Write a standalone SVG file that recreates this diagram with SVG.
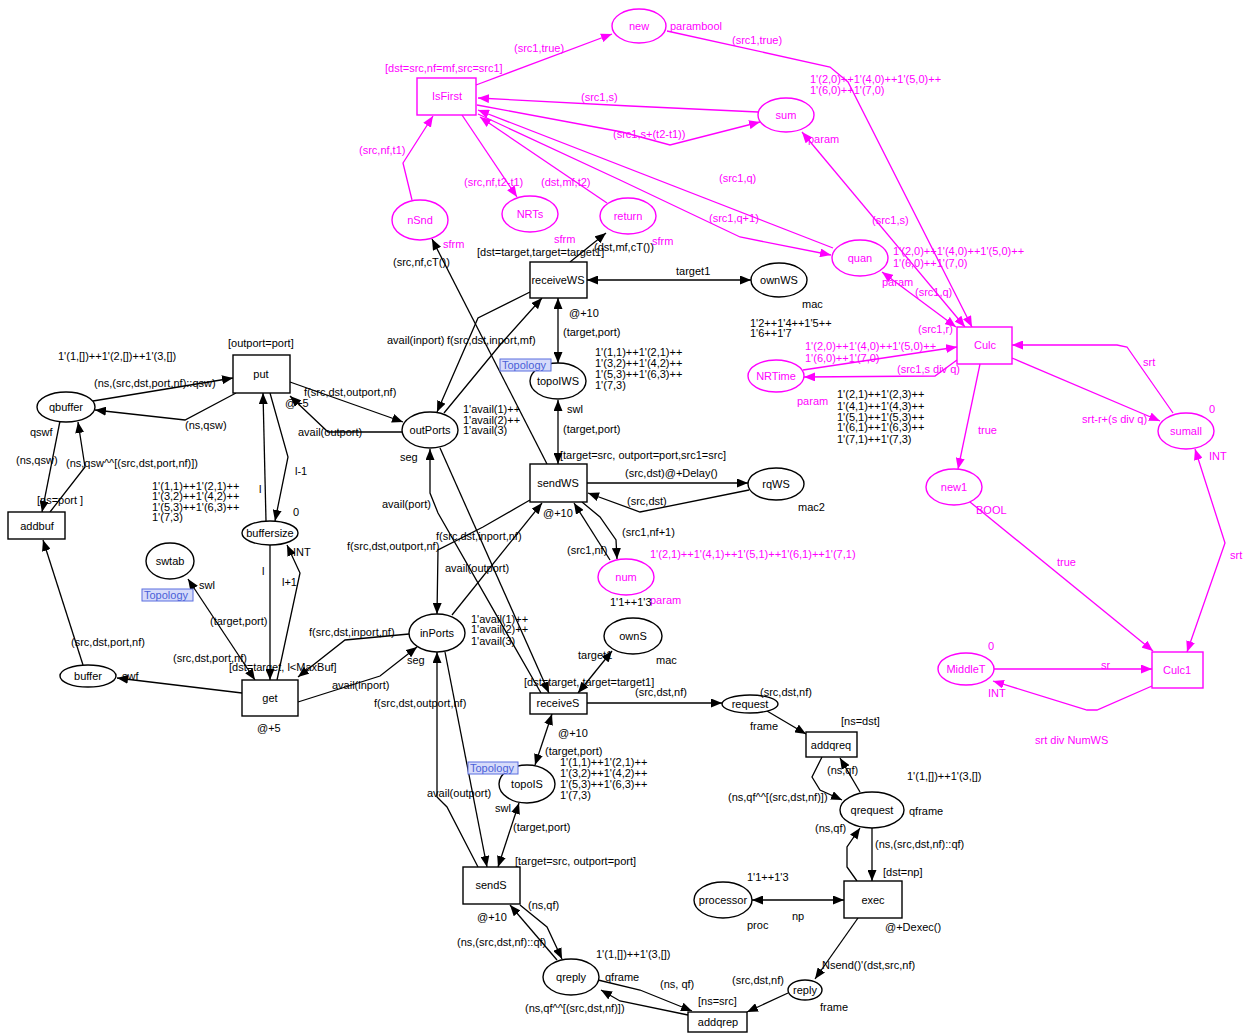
<svg xmlns="http://www.w3.org/2000/svg" width="1244" height="1035" viewBox="0 0 1244 1035">
<defs>
<marker id="ab" markerWidth="11" markerHeight="9" refX="11" refY="4.5" orient="auto-start-reverse" markerUnits="userSpaceOnUse"><path d="M0,0 L11,4.5 L0,9 z" fill="#000"/></marker>
<marker id="am" markerWidth="11" markerHeight="9" refX="11" refY="4.5" orient="auto-start-reverse" markerUnits="userSpaceOnUse"><path d="M0,0 L11,4.5 L0,9 z" fill="#f0f"/></marker>
<style>
.e{fill:none;stroke:#000;stroke-width:1.3;marker-end:url(#ab)}
.eb{marker-start:url(#ab)}
.em{fill:none;stroke:#f0f;stroke-width:1.3;marker-end:url(#am)}
.emb{marker-start:url(#am)}
.n{fill:#fff;stroke:#000;stroke-width:1.4}
.nm{fill:#fff;stroke:#f0f;stroke-width:1.4}
text{font-family:"Liberation Sans",Arial,sans-serif;font-size:11px;fill:#000}
.tm{fill:#f0f}
.c{text-anchor:middle}
.topo rect{fill:#d6dbfa;stroke:#5b6fe0;stroke-width:1}
.topo text{fill:#4a60d8}
</style>
</defs>
<rect width="1244" height="1035" fill="#fff"/>

<g id="connectors">
<!-- black arcs -->
<path class="e" d="M93,401 L233,378"/>
<path class="e" d="M236,393 L185,420 L95,410"/>
<path class="e" d="M60,421 L42,512"/>
<path class="e" d="M50,512 L85,467 L78,422"/>
<path class="e" d="M83,665 L43,540"/>
<path class="e" d="M242,693 L117,678"/>
<path class="e" d="M270,393 L288,457 L275,521"/>
<path class="e" d="M266,521 L263,393"/>
<path class="e" d="M270,545 L270,680"/>
<path class="e" d="M277,680 L300,573 L287,545"/>
<path class="e eb" d="M188,579 L255,680"/>
<path class="e" d="M290,382 L403,422"/>
<path class="e" d="M402,432 L328,432 L290,396"/>
<path class="e" d="M409,634 L345,640 L298,677"/>
<path class="e" d="M298,702 L380,676 L417,647"/>
<path class="e" d="M530,292 L478,318 L437,412"/>
<path class="e" d="M444,413 L500,345 L542,298"/>
<path class="e" d="M547,464 L432,239"/>
<path class="e" d="M570,262 L606,233"/>
<path class="e eb" d="M558,298 L558,363"/>
<path class="e eb" d="M558,400 L558,464"/>
<path class="e eb" d="M587,280 L751,280"/>
<path class="e" d="M587,483 L748,483"/>
<path class="e" d="M749,490 L640,512 L588,493"/>
<path class="e" d="M582,502 L600,517 L616,540 L617,559"/>
<path class="e" d="M610,560 L574,503"/>
<path class="e" d="M530,500 L483,527 L438,550 L437,614"/>
<path class="e" d="M452,615 L542,503"/>
<path class="e" d="M541,693 L438,513 L430,493 L430,449"/>
<path class="e" d="M440,448 L549,693"/>
<path class="e eb" d="M578,693 L612,651"/>
<path class="e" d="M587,703 L722,703"/>
<path class="e eb" d="M552,714 L535,765"/>
<path class="e eb" d="M519,803 L498,867"/>
<path class="e" d="M478,867 L447,807 L437,797 L437,652"/>
<path class="e" d="M445,652 L487,867"/>
<path class="e" d="M520,905 L547,927 L562,959"/>
<path class="e" d="M557,960 L510,905"/>
<path class="e" d="M598,980 L640,990 L692,1011"/>
<path class="e" d="M688,1015 L620,1001 L601,990"/>
<path class="e" d="M788,993 L747,1012"/>
<path class="e" d="M858,918 L815,979"/>
<path class="e" d="M872,828 L872,881"/>
<path class="e" d="M857,881 L847,867 L847,847 L860,828"/>
<path class="e eb" d="M752,900 L844,900"/>
<path class="e" d="M767,711 L806,734"/>
<path class="e" d="M822,757 L812,777 L820,790 L842,800"/>
<path class="e" d="M860,792 L840,758"/>
<!-- magenta arcs -->
<path class="em" d="M476,85 L612,34"/>
<path class="em" d="M667,31 L830,67 L848,82 L972,327"/>
<path class="em" d="M758,112 L630,106 L478,98"/>
<path class="em" d="M477,105 L622,132 L670,145 L760,122"/>
<path class="em" d="M833,248 L478,110"/>
<path class="em" d="M478,114 L620,180 L740,237 L831,255"/>
<path class="em" d="M607,203 L480,117"/>
<path class="em" d="M412,200 L403,163 L433,116"/>
<path class="em" d="M462,115 L517,197"/>
<path class="em emb" d="M802,132 L965,327"/>
<path class="em emb" d="M882,272 L956,327"/>
<path class="em" d="M803,370 L957,347"/>
<path class="em" d="M957,360 L935,376 L804,377"/>
<path class="em" d="M1012,358 L1160,421"/>
<path class="em" d="M1173,413 L1127,347 L1117,345 L1012,345"/>
<path class="em" d="M980,364 L958,469"/>
<path class="em" d="M970,502 L1153,651"/>
<path class="em emb" d="M1195,449 L1225,543 L1187,652"/>
<path class="em" d="M994,669 L1152,669"/>
<path class="em" d="M1152,686 L1097,710 L1087,710 L993,681"/>
</g>

<!-- black nodes -->
<g id="put"><rect class="n" x="233" y="355" width="57" height="38"/><text class="c" x="261" y="378">put</text></g>
<g id="qbuffer"><ellipse class="n" cx="66" cy="407" rx="29" ry="15"/><text class="c" x="66" y="411">qbuffer</text></g>
<g id="addbuf"><rect class="n" x="8" y="512" width="57" height="27"/><text class="c" x="37" y="530">addbuf</text></g>
<g id="buffersize"><ellipse class="n" cx="270" cy="533" rx="28" ry="12"/><text class="c" x="270" y="537">buffersize</text></g>
<g id="swtab"><ellipse class="n" cx="170" cy="561" rx="24" ry="18"/><text class="c" x="170" y="565">swtab</text></g>
<g id="buffer"><ellipse class="n" cx="88" cy="676" rx="28" ry="11"/><text class="c" x="88" y="680">buffer</text></g>
<g id="get"><rect class="n" x="242" y="680" width="56" height="36"/><text class="c" x="270" y="702">get</text></g>
<g id="outPorts"><ellipse class="n" cx="430" cy="430" rx="28" ry="18"/><text class="c" x="430" y="434">outPorts</text></g>
<g id="receiveWS"><rect class="n" x="530" y="262" width="57" height="36"/><text class="c" x="558" y="284">receiveWS</text></g>
<g id="ownWS"><ellipse class="n" cx="779" cy="280" rx="28" ry="17"/><text class="c" x="779" y="284">ownWS</text></g>
<g id="topoIWS"><ellipse class="n" cx="558" cy="381" rx="28" ry="18"/><text class="c" x="558" y="385">topoIWS</text></g>
<g id="sendWS"><rect class="n" x="530" y="464" width="57" height="38"/><text class="c" x="558" y="487">sendWS</text></g>
<g id="rqWS"><ellipse class="n" cx="776" cy="484" rx="28" ry="16"/><text class="c" x="776" y="488">rqWS</text></g>
<g id="inPorts"><ellipse class="n" cx="437" cy="633" rx="28" ry="19"/><text class="c" x="437" y="637">inPorts</text></g>
<g id="ownS"><ellipse class="n" cx="633" cy="636" rx="29" ry="18"/><text class="c" x="633" y="640">ownS</text></g>
<g id="receiveS"><rect class="n" x="530" y="693" width="57" height="21"/><text class="c" x="558" y="707">receiveS</text></g>
<g id="request"><ellipse class="n" cx="750" cy="704" rx="28" ry="9"/><text class="c" x="750" y="708">request</text></g>
<g id="addqreq"><rect class="n" x="806" y="732" width="51" height="25"/><text class="c" x="831" y="749">addqreq</text></g>
<g id="qrequest"><ellipse class="n" cx="872" cy="810" rx="32" ry="18"/><text class="c" x="872" y="814">qrequest</text></g>
<g id="topoIS"><ellipse class="n" cx="527" cy="784" rx="28" ry="19"/><text class="c" x="527" y="788">topoIS</text></g>
<g id="sendS"><rect class="n" x="463" y="867" width="57" height="37"/><text class="c" x="491" y="889">sendS</text></g>
<g id="processor"><ellipse class="n" cx="723" cy="900" rx="29" ry="18"/><text class="c" x="723" y="904">processor</text></g>
<g id="exec"><rect class="n" x="844" y="881" width="58" height="37"/><text class="c" x="873" y="904">exec</text></g>
<g id="reply"><ellipse class="n" cx="805" cy="990" rx="17" ry="10"/><text class="c" x="805" y="994">reply</text></g>
<g id="addqrep"><rect class="n" x="688" y="1012" width="59" height="20"/><text class="c" x="718" y="1026">addqrep</text></g>
<g id="qreply"><ellipse class="n" cx="571" cy="977" rx="28" ry="18"/><text class="c" x="571" y="981">qreply</text></g>

<!-- magenta nodes -->
<g id="IsFirst"><rect class="nm" x="417" y="78" width="59" height="37"/><text class="c tm" x="447" y="100">IsFirst</text></g>
<g id="new"><ellipse class="nm" cx="639" cy="26" rx="27" ry="17"/><text class="c tm" x="639" y="30">new</text></g>
<g id="sum"><ellipse class="nm" cx="786" cy="115" rx="28" ry="17"/><text class="c tm" x="786" y="119">sum</text></g>
<g id="nSnd"><ellipse class="nm" cx="420" cy="220" rx="28" ry="20"/><text class="c tm" x="420" y="224">nSnd</text></g>
<g id="NRTs"><ellipse class="nm" cx="530" cy="214" rx="28" ry="18"/><text class="c tm" x="530" y="218">NRTs</text></g>
<g id="return"><ellipse class="nm" cx="628" cy="216" rx="28" ry="18"/><text class="c tm" x="628" y="220">return</text></g>
<g id="quan"><ellipse class="nm" cx="860" cy="258" rx="28" ry="18"/><text class="c tm" x="860" y="262">quan</text></g>
<g id="Culc"><rect class="nm" x="957" y="327" width="55" height="37"/><text class="c tm" x="985" y="349">Culc</text></g>
<g id="NRTime"><ellipse class="nm" cx="776" cy="376" rx="28" ry="16"/><text class="c tm" x="776" y="380">NRTime</text></g>
<g id="num"><ellipse class="nm" cx="626" cy="577" rx="28" ry="18"/><text class="c tm" x="626" y="581">num</text></g>
<g id="sumall"><ellipse class="nm" cx="1186" cy="431" rx="28" ry="18"/><text class="c tm" x="1186" y="435">sumall</text></g>
<g id="new1"><ellipse class="nm" cx="954" cy="487" rx="28" ry="18"/><text class="c tm" x="954" y="491">new1</text></g>
<g id="Culc1"><rect class="nm" x="1152" y="652" width="51" height="36"/><text class="c tm" x="1177" y="674">Culc1</text></g>
<g id="MiddleT"><ellipse class="nm" cx="966" cy="669" rx="28" ry="16"/><text class="c tm" x="966" y="673">MiddleT</text></g>

<!-- Topology tags -->
<g class="topo" id="topo1"><rect x="142" y="589" width="51" height="12"/><text x="144" y="599">Topology</text></g>
<g class="topo" id="topo2"><rect x="500" y="359" width="51" height="12"/><text x="502" y="369">Topology</text></g>
<g class="topo" id="topo3"><rect x="468" y="762" width="50" height="12"/><text x="470" y="772">Topology</text></g>

<!-- magenta labels -->
<g id="labels-m" class="tm">
<text class="tm" x="514" y="52">(src1,true)</text>
<text class="tm" x="385" y="72">[dst=src,nf=mf,src=src1]</text>
<text class="tm" x="359" y="154">(src,nf,t1)</text>
<text class="tm" x="464" y="186">(src,nf,t2-t1)</text>
<text class="tm" x="541" y="186">(dst,mf,t2)</text>
<text class="tm" x="581" y="101">(src1,s)</text>
<text class="tm" x="443" y="248">sfrm</text>
<text class="tm" x="554" y="243">sfrm</text>
<text class="tm" x="652" y="245">sfrm</text>
<text class="tm" x="670" y="30">parambool</text>
<text class="tm" x="732" y="44">(src1,true)</text>
<text class="tm" x="810" y="83">1'(2,0)++1'(4,0)++1'(5,0)++</text>
<text class="tm" x="810" y="94">1'(6,0)++1'(7,0)</text>
<text class="tm" x="613" y="138">(src1,s+(t2-t1))</text>
<text class="tm" x="808" y="143">param</text>
<text class="tm" x="719" y="182">(src1,q)</text>
<text class="tm" x="709" y="222">(src1,q+1)</text>
<text class="tm" x="872" y="224">(src1,s)</text>
<text class="tm" x="893" y="255">1'(2,0)++1'(4,0)++1'(5,0)++</text>
<text class="tm" x="893" y="267">1'(6,0)++1'(7,0)</text>
<text class="tm" x="882" y="286">param</text>
<text class="tm" x="915" y="296">(src1,q)</text>
<text class="tm" x="918" y="333">(src1,r)</text>
<text class="tm" x="805" y="350">1'(2,0)++1'(4,0)++1'(5,0)++</text>
<text class="tm" x="805" y="362">1'(6,0)++1'(7,0)</text>
<text class="tm" x="897" y="373">(src1,s div q)</text>
<text class="tm" x="797" y="405">param</text>
<text class="tm" x="1143" y="366">srt</text>
<text class="tm" x="1209" y="413">0</text>
<text class="tm" x="1082" y="423">srt-r+(s div q)</text>
<text class="tm" x="1209" y="460">INT</text>
<text class="tm" x="978" y="434">true</text>
<text class="tm" x="976" y="514">BOOL</text>
<text class="tm" x="1057" y="566">true</text>
<text class="tm" x="1230" y="559">srt</text>
<text class="tm" x="988" y="650">0</text>
<text class="tm" x="1101" y="669">sr</text>
<text class="tm" x="988" y="697">INT</text>
<text class="tm" x="1035" y="744">srt div NumWS</text>
<text class="tm" x="650" y="558">1'(2,1)++1'(4,1)++1'(5,1)++1'(6,1)++1'(7,1)</text>
<text class="tm" x="650" y="604">param</text>
</g>

<!-- black labels -->
<g id="labels-b">
<text x="228" y="347">[outport=port]</text>
<text x="58" y="360">1'(1,[])++1'(2,[])++1'(3,[])</text>
<text x="94" y="387">(ns,(src,dst,port,nf)::qsw)</text>
<text x="185" y="429">(ns,qsw)</text>
<text x="30" y="436">qswf</text>
<text x="16" y="464">(ns,qsw)</text>
<text x="66" y="467">(ns,qsw^^[(src,dst,port,nf)])</text>
<text x="37" y="504">[ns=port ]</text>
<text x="152" y="490">1'(1,1)++1'(2,1)++</text>
<text x="152" y="500">1'(3,2)++1'(4,2)++</text>
<text x="152" y="511">1'(5,3)++1'(6,3)++</text>
<text x="152" y="521">1'(7,3)</text>
<text x="259" y="493">l</text>
<text x="295" y="475">l-1</text>
<text x="293" y="516">0</text>
<text x="293" y="556">INT</text>
<text x="262" y="575">l</text>
<text x="282" y="586">l+1</text>
<text x="199" y="589">swl</text>
<text x="210" y="625">(target,port)</text>
<text x="71" y="646">(src,dst,port,nf)</text>
<text x="173" y="662">(src,dst,port,nf)</text>
<text x="229" y="671">[dst=target, l&lt;MaxBuf]</text>
<text x="122" y="680">swf</text>
<text x="257" y="732">@+5</text>
<text x="285" y="407">@+5</text>
<text x="304" y="396">f(src,dst,outport,nf)</text>
<text x="298" y="436">avail(outport)</text>
<text x="400" y="461">seg</text>
<text x="463" y="413">1'avail(1)++</text>
<text x="463" y="424">1'avail(2)++</text>
<text x="463" y="434">1'avail(3)</text>
<text x="382" y="508">avail(port)</text>
<text x="436" y="540">f(src,dst,inport,nf)</text>
<text x="347" y="550">f(src,dst,outport,nf)</text>
<text x="445" y="572">avail(outport)</text>
<text x="471" y="623">1'avail(1)++</text>
<text x="471" y="633">1'avail(2)++</text>
<text x="471" y="645">1'avail(3)</text>
<text x="407" y="664">seg</text>
<text x="309" y="636">f(src,dst,inport,nf)</text>
<text x="332" y="689">avail(inport)</text>
<text x="374" y="707">f(src,dst,outport,nf)</text>
<text x="543" y="517">@+10</text>
<text x="567" y="554">(src1,nf)</text>
<text x="622" y="536">(src1,nf+1)</text>
<text x="560" y="459">[target=src, outport=port,src1=src]</text>
<text x="625" y="477">(src,dst)@+Delay()</text>
<text x="627" y="505">(src,dst)</text>
<text x="798" y="511">mac2</text>
<text x="563" y="433">(target,port)</text>
<text x="567" y="413">swl</text>
<text x="595" y="356">1'(1,1)++1'(2,1)++</text>
<text x="595" y="367">1'(3,2)++1'(4,2)++</text>
<text x="595" y="378">1'(5,3)++1'(6,3)++</text>
<text x="595" y="389">1'(7,3)</text>
<text x="563" y="336">(target,port)</text>
<text x="569" y="317">@+10</text>
<text x="676" y="275">target1</text>
<text x="802" y="308">mac</text>
<text x="750" y="327">1'2++1'4++1'5++</text>
<text x="750" y="337">1'6++1'7</text>
<text x="837" y="398">1'(2,1)++1'(2,3)++</text>
<text x="837" y="410">1'(4,1)++1'(4,3)++</text>
<text x="837" y="421">1'(5,1)++1'(5,3)++</text>
<text x="837" y="431">1'(6,1)++1'(6,3)++</text>
<text x="837" y="443">1'(7,1)++1'(7,3)</text>
<text x="477" y="256">[dst=target,target=target1]</text>
<text x="594" y="251">(dst,mf,cT())</text>
<text x="393" y="266">(src,nf,cT())</text>
<text x="387" y="344">avail(inport)</text>
<text x="447" y="344">f(src,dst,inport,mf)</text>
<text x="656" y="664">mac</text>
<text x="578" y="659">target1</text>
<text x="610" y="606">1'1++1'3</text>
<text x="524" y="686">[dst=target, target=target1]</text>
<text x="635" y="696">(src,dst,nf)</text>
<text x="760" y="696">(src,dst,nf)</text>
<text x="750" y="730">frame</text>
<text x="841" y="725">[ns=dst]</text>
<text x="558" y="737">@+10</text>
<text x="545" y="755">(target,port)</text>
<text x="560" y="766">1'(1,1)++1'(2,1)++</text>
<text x="560" y="777">1'(3,2)++1'(4,2)++</text>
<text x="560" y="788">1'(5,3)++1'(6,3)++</text>
<text x="560" y="799">1'(7,3)</text>
<text x="427" y="797">avail(outport)</text>
<text x="495" y="812">swl</text>
<text x="513" y="831">(target,port)</text>
<text x="515" y="865">[target=src, outport=port]</text>
<text x="477" y="921">@+10</text>
<text x="528" y="909">(ns,qf)</text>
<text x="457" y="946">(ns,(src,dst,nf)::qf)</text>
<text x="596" y="958">1'(1,[])++1'(3,[])</text>
<text x="605" y="981">qframe</text>
<text x="525" y="1012">(ns,qf^^[(src,dst,nf)])</text>
<text x="660" y="988">(ns, qf)</text>
<text x="698" y="1005">[ns=src]</text>
<text x="732" y="984">(src,dst,nf)</text>
<text x="820" y="1011">frame</text>
<text x="822" y="969">Nsend()'(dst,src,nf)</text>
<text x="792" y="920">np</text>
<text x="747" y="929">proc</text>
<text x="747" y="881">1'1++1'3</text>
<text x="883" y="876">[dst=np]</text>
<text x="885" y="931">@+Dexec()</text>
<text x="875" y="848">(ns,(src,dst,nf)::qf)</text>
<text x="815" y="832">(ns,qf)</text>
<text x="827" y="774">(ns,qf)</text>
<text x="728" y="801">(ns,qf^^[(src,dst,nf)])</text>
<text x="909" y="815">qframe</text>
<text x="907" y="780">1'(1,[])++1'(3,[])</text>
</g>
</svg>
